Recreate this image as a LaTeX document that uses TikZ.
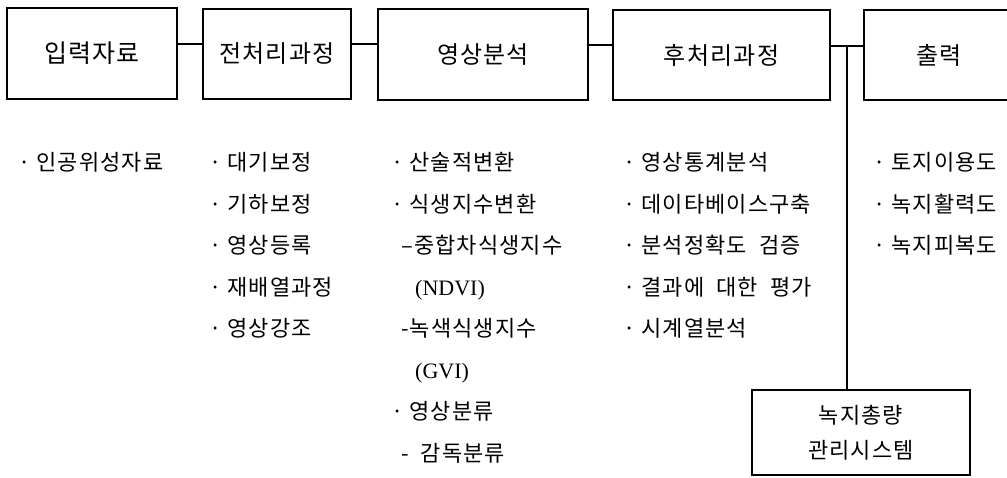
\documentclass[tikz,border=0pt]{standalone}
\usepackage{fontspec}
\setmainfont{Liberation Serif}
\newfontfamily\kr[LetterSpace=5]{Noto Sans CJK KR}
\newcommand{\gap}{\hspace{0.55em}}
\begin{document}
\begin{tikzpicture}[x=1pt,y=-1pt,
  box/.style={draw, line width=1.3pt, inner sep=0pt, font=\kr\fontsize{24}{24}\selectfont},
  item/.style={anchor=base west, font=\kr\fontsize{22}{22}\selectfont, inner sep=0pt},
  latin/.style={anchor=base west, font=\fontsize{22}{22}\selectfont, inner sep=0pt},
  conn/.style={line width=1.1pt}]
\useasboundingbox (0,0) rectangle (1007,477);
% top row boxes
\node[box, minimum width=170pt, minimum height=91pt, font=\kr\fontsize{25}{25}\selectfont] (b1) at (92,53.5) {입력자료};
\node[box, minimum width=148pt, minimum height=90pt] (b2) at (277,54) {전처리과정};
\node[box, minimum width=210pt, minimum height=91pt] (b3) at (483,54.5) {영상분석};
\node[box, minimum width=217pt, minimum height=90pt] (b4) at (721.5,55) {후처리과정};
\node[box, minimum width=150pt, minimum height=90pt] (b5) at (939,55) {출력};
\node[box, minimum width=218pt, minimum height=85pt, align=center, font=\kr\fontsize{22}{35}\selectfont] (b6) at (861,432.5) {녹지총량\\관리시스템};
% connectors
\coordinate (l1) at (0,44);
\coordinate (l2) at (0,45);
\coordinate (l3) at (0,46);
\coordinate (j) at (847,46);
\draw[conn, line width=1.7pt] (b1.east |- l1) -- (b2.west |- l1);
\draw[conn] (b2.east |- l1) -- (b3.west |- l1);
\draw[conn] (b3.east |- l2) -- (b4.west |- l2);
\draw[conn] (b4.east |- l3) -- (b5.west |- l3);
\draw[conn] (j) -- (j |- b6.north);
% column 1
\node[item] (c1a) at (18,170) {· 인공위성자료};
% column 2
\node[item] (c2a) at (209,170) {· 대기보정};
\node[item] (c2b) at (209,212) {· 기하보정};
\node[item] (c2c) at (209,253) {· 영상등록};
\node[item] (c2d) at (209,295) {· 재배열과정};
\node[item] (c2e) at (209,336) {· 영상강조};
% column 3
\node[item] (c3a) at (391,170) {· 산술적변환};
\node[item] (c3b) at (391,212) {· 식생지수변환};
\node[item] (c3c) at (401,253) {–중합차식생지수};
\node[latin] (c3d) at (415,295) {(NDVI)};
\node[item] (c3e) at (401,336) {-녹색식생지수};
\node[latin] (c3f) at (415,378) {(GVI)};
\node[item] (c3g) at (391,419) {· 영상분류};
\node[item] (c3h) at (401,461) {-\gap 감독분류};
% column 4
\node[item] (c4a) at (623,170) {· 영상통계분석};
\node[item] (c4b) at (623,212) {· 데이타베이스구축};
\node[item] (c4c) at (623,253) {· 분석정확도\gap 검증};
\node[item] (c4d) at (623,295) {· 결과에\gap 대한\gap 평가};
\node[item] (c4e) at (623,336) {· 시계열분석};
% column 5
\node[item] (c5a) at (873,170) {· 토지이용도};
\node[item] (c5b) at (873,212) {· 녹지활력도};
\node[item] (c5c) at (873,253) {· 녹지피복도};
\end{tikzpicture}
\end{document}
